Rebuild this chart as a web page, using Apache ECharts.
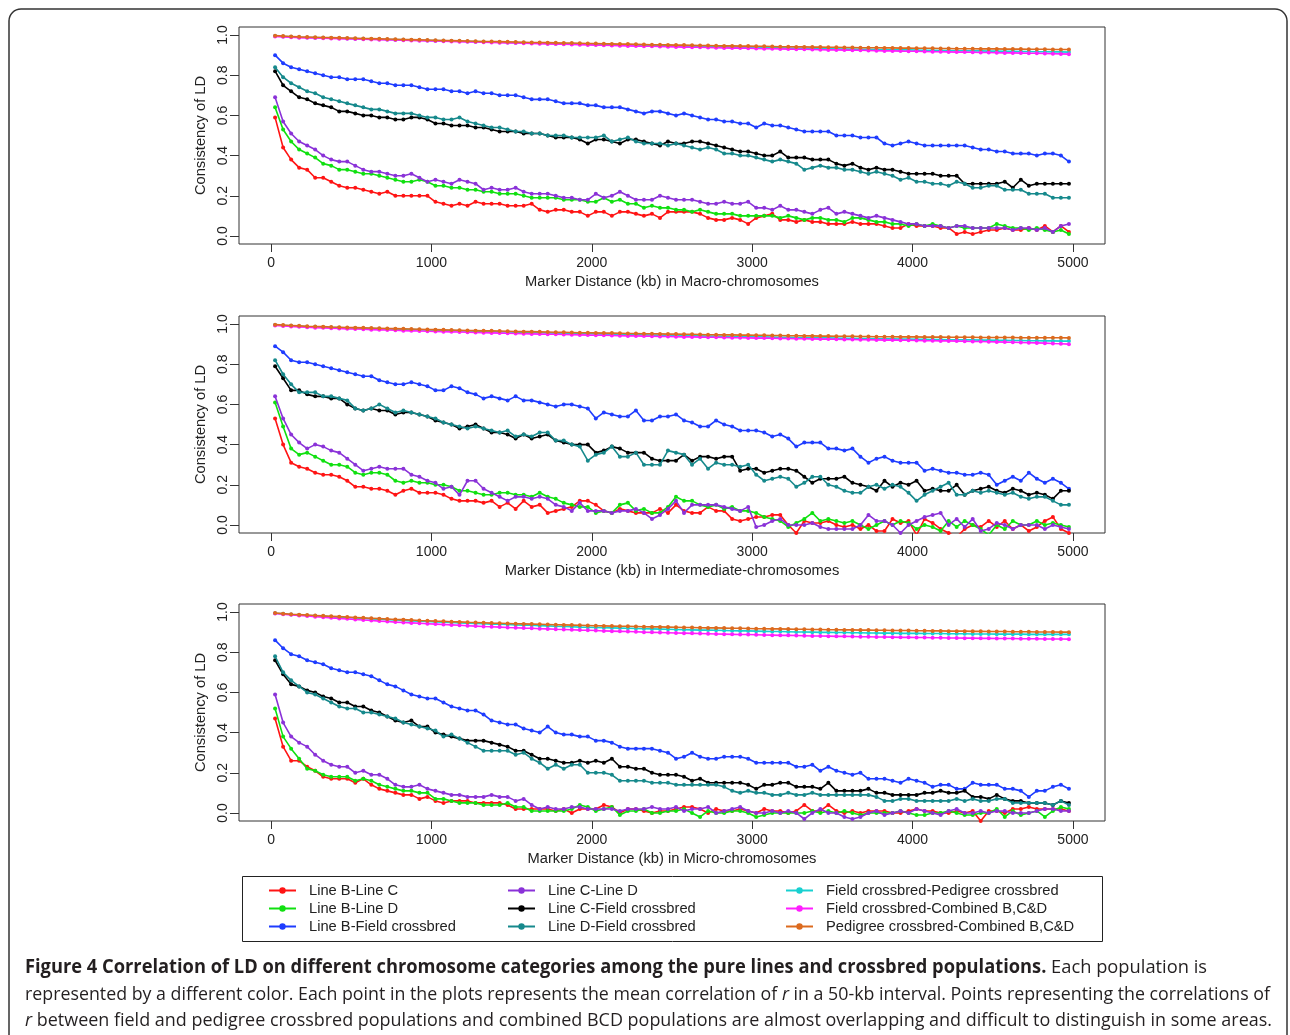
<!DOCTYPE html>
<html><head><meta charset="utf-8">
<script src="https://cdn.jsdelivr.net/npm/echarts@6/dist/echarts.min.js"></script>
<style>html,body{margin:0;padding:0;background:#fff}#c{width:1290px;height:1035px}</style>
</head><body><div id="c"></div>
<script>
// ---- bins: mean correlation of r in 50-kb intervals ----
const binWidth = 50;
const nBins = 100;
const distances = Array.from({length: nBins}, (_, i) => binWidth / 2 + binWidth * i);

const seriesNames = ['Line B-Line C','Line B-Line D','Line B-Field crossbred','Line C-Line D','Line C-Field crossbred','Line D-Field crossbred','Field crossbred-Pedigree crossbred','Field crossbred-Combined B,C&D','Pedigree crossbred-Combined B,C&D'];
const panelTitles = ['Marker Distance (kb) in Macro-chromosomes','Marker Distance (kb) in Intermediate-chromosomes','Marker Distance (kb) in Micro-chromosomes'];
const xTickLabels = [0,1000,2000,3000,4000,5000];
const yTickLabels = [0.0,0.2,0.4,0.6,0.8,1.0];

// ---------- Macro-chromosomes ----------
const macroBC = [0.59,0.44,0.38,0.34,0.33,0.29,0.29,0.27,0.25,0.24, 0.24,0.23,0.22,0.21,0.22,0.20,0.20,0.20,0.20,0.20, 0.17,0.16,0.15,0.16,0.15,0.17,0.16,0.16,0.16,0.15, 0.15,0.15,0.16,0.13,0.12,0.13,0.13,0.12,0.12,0.10, 0.12,0.12,0.10,0.12,0.12,0.11,0.10,0.11,0.09,0.12, 0.12,0.12,0.12,0.11,0.09,0.08,0.08,0.09,0.08,0.06, 0.09,0.10,0.11,0.08,0.08,0.07,0.08,0.07,0.07,0.06, 0.06,0.06,0.07,0.06,0.06,0.06,0.05,0.04,0.04,0.06, 0.05,0.05,0.05,0.04,0.04,0.01,0.02,0.01,0.02,0.03, 0.03,0.04,0.03,0.03,0.04,0.03,0.05,0.02,0.05,0.02];
const macroBD = [0.64,0.53,0.47,0.43,0.41,0.39,0.36,0.35,0.33,0.33, 0.32,0.31,0.31,0.30,0.29,0.28,0.27,0.27,0.28,0.27, 0.25,0.25,0.24,0.24,0.23,0.23,0.22,0.22,0.21,0.21, 0.21,0.20,0.19,0.19,0.19,0.19,0.18,0.18,0.18,0.17, 0.17,0.19,0.17,0.18,0.16,0.16,0.14,0.15,0.14,0.14, 0.13,0.13,0.12,0.13,0.12,0.11,0.11,0.11,0.10,0.10, 0.10,0.10,0.10,0.09,0.10,0.09,0.08,0.09,0.09,0.08, 0.08,0.07,0.09,0.09,0.08,0.07,0.07,0.06,0.06,0.05, 0.06,0.05,0.06,0.05,0.04,0.05,0.04,0.04,0.04,0.04, 0.06,0.05,0.04,0.04,0.03,0.04,0.03,0.02,0.03,0.01];
const macroBF = [0.90,0.86,0.84,0.83,0.82,0.81,0.80,0.79,0.79,0.78, 0.78,0.78,0.77,0.76,0.76,0.75,0.75,0.75,0.74,0.73, 0.73,0.73,0.72,0.72,0.71,0.72,0.71,0.71,0.70,0.70, 0.70,0.69,0.68,0.68,0.68,0.67,0.66,0.66,0.66,0.65, 0.65,0.64,0.64,0.64,0.63,0.62,0.61,0.62,0.62,0.61, 0.60,0.61,0.60,0.59,0.58,0.58,0.57,0.57,0.56,0.56, 0.54,0.56,0.55,0.55,0.54,0.53,0.52,0.52,0.52,0.52, 0.50,0.50,0.50,0.49,0.49,0.49,0.46,0.45,0.46,0.47, 0.46,0.45,0.45,0.45,0.45,0.45,0.45,0.44,0.43,0.43, 0.42,0.42,0.41,0.41,0.41,0.40,0.41,0.41,0.40,0.37];
const macroCD = [0.69,0.57,0.51,0.47,0.45,0.43,0.40,0.38,0.37,0.37, 0.35,0.33,0.32,0.32,0.31,0.30,0.30,0.31,0.29,0.27, 0.28,0.27,0.26,0.28,0.27,0.26,0.23,0.24,0.23,0.23, 0.24,0.22,0.21,0.21,0.21,0.20,0.19,0.19,0.18,0.18, 0.21,0.19,0.20,0.22,0.20,0.18,0.18,0.18,0.20,0.19, 0.18,0.18,0.18,0.17,0.16,0.16,0.17,0.16,0.16,0.17, 0.14,0.14,0.13,0.15,0.13,0.13,0.12,0.11,0.13,0.14, 0.11,0.12,0.11,0.10,0.09,0.10,0.09,0.08,0.07,0.06, 0.06,0.05,0.05,0.05,0.04,0.05,0.05,0.04,0.04,0.04, 0.04,0.04,0.03,0.04,0.04,0.03,0.04,0.02,0.05,0.06];
const macroCF = [0.82,0.75,0.72,0.69,0.68,0.66,0.65,0.64,0.62,0.62, 0.61,0.60,0.60,0.59,0.59,0.58,0.58,0.59,0.59,0.58, 0.56,0.56,0.55,0.55,0.55,0.54,0.54,0.53,0.52,0.52, 0.52,0.51,0.51,0.51,0.50,0.49,0.49,0.49,0.48,0.46, 0.48,0.48,0.47,0.46,0.48,0.48,0.47,0.46,0.45,0.47, 0.46,0.46,0.47,0.47,0.46,0.45,0.44,0.43,0.42,0.42, 0.41,0.40,0.40,0.42,0.39,0.39,0.39,0.38,0.38,0.38, 0.36,0.35,0.36,0.34,0.33,0.34,0.33,0.33,0.32,0.31, 0.31,0.31,0.31,0.30,0.30,0.30,0.26,0.26,0.26,0.26, 0.26,0.27,0.24,0.28,0.25,0.26,0.26,0.26,0.26,0.26];
const macroDF = [0.84,0.79,0.76,0.74,0.72,0.71,0.69,0.68,0.67,0.66, 0.65,0.64,0.63,0.63,0.62,0.61,0.61,0.61,0.60,0.59, 0.59,0.58,0.58,0.59,0.57,0.56,0.55,0.54,0.54,0.53, 0.52,0.52,0.51,0.51,0.50,0.50,0.50,0.49,0.49,0.49, 0.49,0.50,0.47,0.48,0.49,0.47,0.46,0.46,0.46,0.45, 0.46,0.45,0.44,0.43,0.44,0.43,0.41,0.41,0.40,0.40, 0.39,0.38,0.37,0.38,0.37,0.36,0.33,0.34,0.35,0.34, 0.34,0.33,0.33,0.32,0.31,0.32,0.31,0.30,0.28,0.29, 0.27,0.27,0.26,0.26,0.25,0.27,0.26,0.24,0.24,0.25, 0.25,0.23,0.23,0.23,0.21,0.21,0.21,0.19,0.19,0.19];
const macroFP = [0.995,0.993,0.991,0.989,0.988,0.987,0.986,0.985,0.984,0.983, 0.982,0.981,0.980,0.979,0.978,0.977,0.976,0.975,0.974,0.973, 0.972,0.971,0.970,0.969,0.968,0.967,0.966,0.965,0.964,0.963, 0.962,0.961,0.960,0.959,0.958,0.957,0.957,0.956,0.955,0.954, 0.953,0.952,0.951,0.951,0.950,0.949,0.948,0.947,0.947,0.946, 0.945,0.944,0.944,0.943,0.942,0.941,0.941,0.940,0.939,0.938, 0.938,0.937,0.936,0.936,0.935,0.934,0.934,0.933,0.932,0.932, 0.931,0.930,0.930,0.929,0.929,0.928,0.927,0.927,0.926,0.926, 0.925,0.924,0.924,0.923,0.923,0.922,0.922,0.921,0.921,0.920, 0.920,0.919,0.919,0.918,0.918,0.917,0.917,0.916,0.916,0.915];
const macroFB = [0.993,0.991,0.989,0.987,0.986,0.985,0.984,0.983,0.982,0.981, 0.980,0.979,0.978,0.977,0.976,0.975,0.974,0.973,0.972,0.971, 0.970,0.969,0.968,0.967,0.966,0.965,0.964,0.963,0.962,0.961, 0.960,0.959,0.958,0.957,0.956,0.955,0.954,0.953,0.952,0.951, 0.950,0.949,0.948,0.947,0.946,0.945,0.944,0.944,0.943,0.942, 0.941,0.940,0.939,0.939,0.938,0.937,0.936,0.935,0.935,0.934, 0.933,0.932,0.932,0.931,0.930,0.929,0.929,0.928,0.927,0.926, 0.926,0.925,0.924,0.924,0.923,0.922,0.921,0.921,0.920,0.919, 0.919,0.918,0.917,0.917,0.916,0.915,0.915,0.914,0.913,0.913, 0.912,0.911,0.911,0.910,0.909,0.909,0.908,0.907,0.906,0.905];
const macroPB = [0.997,0.995,0.993,0.991,0.990,0.989,0.988,0.987,0.986,0.985, 0.984,0.983,0.982,0.981,0.980,0.979,0.978,0.977,0.976,0.975, 0.974,0.973,0.972,0.971,0.970,0.969,0.968,0.968,0.967,0.966, 0.965,0.964,0.963,0.963,0.962,0.961,0.960,0.960,0.959,0.958, 0.958,0.957,0.956,0.955,0.955,0.954,0.953,0.952,0.952,0.951, 0.950,0.950,0.949,0.948,0.948,0.947,0.946,0.946,0.945,0.945, 0.944,0.944,0.943,0.942,0.942,0.941,0.941,0.940,0.940,0.939, 0.939,0.938,0.938,0.937,0.937,0.937,0.936,0.936,0.935,0.935, 0.934,0.934,0.934,0.933,0.933,0.932,0.932,0.932,0.931,0.931, 0.931,0.930,0.930,0.930,0.929,0.929,0.929,0.928,0.928,0.928];

// ---------- Intermediate-chromosomes ----------
const interBC = [0.53,0.40,0.31,0.29,0.28,0.26,0.25,0.25,0.24,0.22, 0.19,0.19,0.18,0.18,0.17,0.15,0.17,0.18,0.16,0.16, 0.16,0.15,0.13,0.12,0.12,0.12,0.11,0.12,0.09,0.11, 0.08,0.12,0.09,0.10,0.06,0.07,0.08,0.09,0.12,0.12, 0.10,0.07,0.06,0.08,0.07,0.06,0.06,0.06,0.08,0.06, 0.10,0.07,0.06,0.06,0.09,0.07,0.07,0.03,0.02,0.03, 0.04,0.04,0.05,0.05,0.00,-0.04,0.02,0.01,0.01,0.02, 0.00,-0.01,0.00,-0.02,0.00,-0.03,-0.03,0.03,0.01,0.02, -0.05,0.03,0.01,-0.02,-0.04,-0.06,-0.02,0.00,-0.01,0.02, -0.01,0.02,-0.02,0.00,-0.03,-0.01,0.02,0.04,-0.02,-0.04];
const interBD = [0.61,0.49,0.38,0.35,0.36,0.34,0.32,0.30,0.30,0.29, 0.26,0.25,0.26,0.26,0.25,0.22,0.21,0.22,0.21,0.21, 0.20,0.20,0.19,0.17,0.17,0.16,0.15,0.15,0.16,0.16, 0.15,0.15,0.14,0.16,0.14,0.13,0.11,0.10,0.09,0.09, 0.06,0.07,0.06,0.10,0.11,0.07,0.08,0.06,0.06,0.09, 0.14,0.12,0.12,0.10,0.09,0.10,0.08,0.09,0.07,0.07, 0.06,0.04,0.03,0.02,-0.01,0.01,0.03,0.06,0.02,0.03, 0.02,0.01,0.02,0.00,-0.02,0.00,0.02,0.00,0.02,0.01, -0.02,0.00,-0.01,-0.03,0.02,-0.01,0.02,0.00,-0.02,-0.05, 0.00,-0.02,0.02,0.00,0.00,0.02,0.00,0.01,0.00,-0.01];
const interBF = [0.89,0.86,0.82,0.81,0.81,0.80,0.79,0.78,0.77,0.76, 0.75,0.74,0.74,0.72,0.71,0.70,0.70,0.71,0.70,0.69, 0.67,0.67,0.69,0.68,0.66,0.65,0.63,0.64,0.63,0.62, 0.64,0.62,0.62,0.61,0.60,0.59,0.60,0.60,0.59,0.58, 0.53,0.56,0.55,0.54,0.54,0.57,0.52,0.52,0.54,0.54, 0.55,0.52,0.51,0.49,0.49,0.52,0.50,0.49,0.47,0.47, 0.47,0.46,0.44,0.45,0.43,0.39,0.41,0.41,0.41,0.38, 0.38,0.37,0.38,0.34,0.31,0.33,0.34,0.32,0.31,0.31, 0.31,0.27,0.28,0.27,0.26,0.26,0.25,0.25,0.26,0.25, 0.20,0.22,0.24,0.22,0.26,0.23,0.21,0.23,0.21,0.18];
const interCD = [0.64,0.53,0.45,0.41,0.38,0.40,0.39,0.37,0.36,0.33, 0.30,0.27,0.28,0.29,0.28,0.28,0.28,0.25,0.24,0.22, 0.21,0.18,0.19,0.15,0.22,0.22,0.18,0.16,0.14,0.12, 0.14,0.14,0.13,0.14,0.13,0.10,0.09,0.07,0.11,0.07, 0.07,0.07,0.06,0.07,0.07,0.08,0.06,0.03,0.05,0.08, 0.12,0.06,0.10,0.10,0.10,0.10,0.09,0.08,0.07,0.09, -0.01,0.00,0.02,0.03,0.00,0.00,0.00,0.01,-0.01,-0.02, -0.02,-0.02,-0.02,0.00,0.05,0.02,0.02,0.00,-0.04,0.00, 0.02,0.04,0.05,0.06,0.00,0.03,-0.01,0.03,-0.03,-0.02, 0.01,0.00,-0.02,0.00,0.00,0.00,-0.02,0.00,-0.01,-0.02];
const interCF = [0.79,0.73,0.67,0.67,0.65,0.64,0.64,0.63,0.63,0.60, 0.58,0.57,0.58,0.57,0.57,0.55,0.56,0.56,0.55,0.54, 0.52,0.51,0.50,0.48,0.49,0.50,0.48,0.46,0.46,0.45, 0.43,0.45,0.43,0.44,0.45,0.42,0.41,0.40,0.40,0.40, 0.36,0.37,0.39,0.38,0.36,0.36,0.36,0.33,0.32,0.32, 0.32,0.35,0.32,0.34,0.34,0.33,0.34,0.34,0.27,0.28, 0.28,0.26,0.27,0.28,0.28,0.27,0.24,0.21,0.23,0.23, 0.23,0.24,0.21,0.20,0.19,0.17,0.22,0.19,0.21,0.20, 0.22,0.17,0.18,0.17,0.17,0.20,0.15,0.17,0.18,0.19, 0.17,0.16,0.18,0.17,0.15,0.16,0.15,0.13,0.17,0.17];
const interDF = [0.82,0.75,0.70,0.66,0.66,0.66,0.64,0.64,0.63,0.62, 0.58,0.57,0.58,0.60,0.58,0.56,0.57,0.56,0.55,0.54, 0.53,0.51,0.50,0.49,0.48,0.49,0.48,0.47,0.46,0.47, 0.44,0.45,0.44,0.46,0.46,0.42,0.42,0.40,0.39,0.32, 0.35,0.36,0.39,0.34,0.34,0.36,0.30,0.30,0.30,0.37, 0.36,0.35,0.30,0.33,0.28,0.31,0.30,0.30,0.29,0.30, 0.25,0.22,0.23,0.24,0.23,0.19,0.21,0.24,0.24,0.20, 0.19,0.17,0.16,0.16,0.19,0.20,0.18,0.20,0.19,0.16, 0.12,0.15,0.17,0.19,0.21,0.15,0.15,0.17,0.16,0.17, 0.16,0.15,0.16,0.14,0.13,0.14,0.14,0.12,0.10,0.10];
const interFP = [0.995,0.993,0.991,0.989,0.987,0.986,0.984,0.983,0.982,0.980, 0.979,0.978,0.977,0.976,0.975,0.974,0.973,0.972,0.971,0.970, 0.969,0.968,0.967,0.966,0.965,0.964,0.963,0.962,0.961,0.960, 0.959,0.958,0.957,0.957,0.956,0.955,0.954,0.953,0.952,0.952, 0.951,0.950,0.949,0.948,0.948,0.947,0.946,0.945,0.945,0.944, 0.943,0.943,0.942,0.941,0.940,0.940,0.939,0.938,0.938,0.937, 0.936,0.936,0.935,0.934,0.934,0.933,0.932,0.932,0.931,0.931, 0.930,0.929,0.929,0.928,0.928,0.927,0.926,0.926,0.925,0.925, 0.924,0.924,0.923,0.923,0.922,0.922,0.921,0.921,0.920,0.920, 0.919,0.919,0.918,0.918,0.917,0.917,0.916,0.916,0.915,0.915];
const interFB = [0.993,0.990,0.988,0.986,0.984,0.982,0.981,0.979,0.978,0.976, 0.975,0.974,0.972,0.971,0.970,0.969,0.967,0.966,0.965,0.964, 0.963,0.962,0.961,0.960,0.959,0.958,0.957,0.956,0.955,0.954, 0.953,0.952,0.951,0.950,0.949,0.949,0.948,0.947,0.946,0.945, 0.944,0.944,0.943,0.942,0.941,0.941,0.940,0.939,0.938,0.938, 0.937,0.936,0.936,0.935,0.934,0.934,0.933,0.932,0.932,0.931, 0.930,0.930,0.929,0.928,0.928,0.927,0.927,0.926,0.925,0.925, 0.924,0.923,0.923,0.922,0.922,0.921,0.920,0.920,0.919,0.919, 0.918,0.917,0.917,0.916,0.916,0.915,0.914,0.913,0.913,0.912, 0.911,0.910,0.909,0.908,0.907,0.906,0.905,0.903,0.902,0.900];
const interPB = [0.997,0.995,0.993,0.991,0.989,0.988,0.987,0.985,0.984,0.983, 0.982,0.981,0.980,0.979,0.978,0.977,0.976,0.975,0.974,0.973, 0.972,0.971,0.970,0.969,0.968,0.967,0.966,0.966,0.965,0.964, 0.963,0.962,0.962,0.961,0.960,0.959,0.959,0.958,0.957,0.957, 0.956,0.955,0.955,0.954,0.953,0.953,0.952,0.952,0.951,0.950, 0.950,0.949,0.949,0.948,0.947,0.947,0.946,0.946,0.945,0.945, 0.944,0.944,0.943,0.943,0.942,0.942,0.941,0.941,0.940,0.940, 0.939,0.939,0.939,0.938,0.938,0.937,0.937,0.937,0.936,0.936, 0.936,0.935,0.935,0.935,0.934,0.934,0.934,0.934,0.933,0.933, 0.933,0.933,0.933,0.932,0.932,0.932,0.932,0.932,0.932,0.931];

// ---------- Micro-chromosomes ----------
const microBC = [0.47,0.33,0.26,0.26,0.23,0.21,0.18,0.17,0.17,0.17, 0.15,0.17,0.14,0.12,0.11,0.10,0.09,0.09,0.07,0.08, 0.06,0.05,0.06,0.06,0.06,0.05,0.05,0.05,0.05,0.04, 0.02,0.02,0.02,0.02,0.02,0.01,0.02,0.00,0.02,0.02, 0.02,0.04,0.03,0.00,0.02,0.02,0.01,0.00,0.01,0.01, 0.02,0.03,0.03,0.02,0.00,0.02,0.01,0.01,0.02,0.01, 0.00,0.02,0.01,0.01,0.00,0.01,0.04,0.01,0.01,0.04, 0.01,0.00,0.01,0.00,0.01,0.01,0.01,0.00,0.00,0.01, 0.02,0.01,0.01,0.00,0.00,0.01,0.00,0.01,-0.04,0.01, 0.01,0.00,0.02,0.02,0.03,0.02,0.02,0.02,0.02,0.01];
const microBD = [0.52,0.38,0.32,0.27,0.22,0.21,0.19,0.18,0.18,0.18, 0.16,0.17,0.16,0.14,0.13,0.12,0.11,0.11,0.10,0.10, 0.07,0.07,0.06,0.05,0.05,0.05,0.04,0.04,0.04,0.05, 0.03,0.03,0.01,0.01,0.01,0.01,0.01,0.02,0.04,0.03, 0.01,0.02,0.03,-0.01,0.01,0.01,0.02,0.00,0.00,0.01, 0.01,0.02,0.00,-0.02,0.01,0.00,0.00,0.01,0.01,0.00, -0.02,-0.01,0.00,0.00,0.00,0.00,0.00,0.01,0.00,0.01, 0.00,0.01,0.00,-0.01,0.00,0.00,0.00,0.00,0.01,0.00, -0.01,-0.01,0.00,0.00,0.01,0.00,-0.01,-0.01,0.00,0.00, 0.02,-0.02,0.01,-0.01,0.00,0.01,-0.02,0.01,0.03,0.02];
const microBF = [0.86,0.82,0.79,0.78,0.76,0.75,0.74,0.72,0.71,0.70, 0.70,0.69,0.68,0.66,0.64,0.63,0.61,0.59,0.58,0.57, 0.57,0.55,0.53,0.52,0.51,0.51,0.49,0.46,0.45,0.44, 0.44,0.42,0.41,0.40,0.43,0.40,0.39,0.39,0.38,0.38, 0.36,0.36,0.35,0.33,0.32,0.32,0.32,0.32,0.31,0.30, 0.27,0.28,0.30,0.28,0.27,0.27,0.28,0.28,0.28,0.27, 0.25,0.25,0.25,0.25,0.25,0.23,0.23,0.24,0.21,0.23, 0.21,0.20,0.19,0.20,0.17,0.17,0.17,0.16,0.15,0.17, 0.16,0.15,0.13,0.14,0.14,0.12,0.12,0.15,0.14,0.14, 0.14,0.12,0.12,0.11,0.08,0.11,0.11,0.13,0.14,0.12];
const microCD = [0.59,0.45,0.38,0.35,0.33,0.29,0.26,0.24,0.23,0.23, 0.20,0.21,0.19,0.19,0.17,0.14,0.13,0.13,0.14,0.12, 0.11,0.10,0.09,0.09,0.08,0.08,0.08,0.09,0.08,0.08, 0.06,0.07,0.04,0.02,0.03,0.02,0.02,0.03,0.03,0.02, 0.02,0.02,0.02,0.01,0.02,0.02,0.02,0.03,0.02,0.02, 0.03,0.01,0.02,0.02,0.03,0.00,0.01,0.02,0.03,0.01, 0.00,0.00,0.01,0.00,0.01,0.00,-0.03,0.00,0.02,0.00, 0.00,-0.02,-0.03,-0.02,0.00,0.01,-0.01,0.00,0.01,0.00, 0.02,0.01,0.00,-0.01,0.01,0.02,0.00,0.00,0.01,0.00, 0.01,0.01,0.00,0.00,0.00,0.01,0.02,0.02,0.01,0.01];
const microCF = [0.76,0.69,0.64,0.63,0.61,0.60,0.58,0.57,0.55,0.55, 0.53,0.53,0.51,0.50,0.48,0.46,0.45,0.46,0.43,0.43, 0.40,0.39,0.38,0.37,0.36,0.36,0.36,0.35,0.34,0.33, 0.31,0.31,0.29,0.27,0.27,0.26,0.25,0.25,0.26,0.25, 0.26,0.25,0.27,0.23,0.23,0.22,0.22,0.20,0.19,0.19, 0.19,0.18,0.16,0.17,0.15,0.15,0.15,0.15,0.15,0.14, 0.12,0.14,0.14,0.15,0.15,0.13,0.13,0.13,0.12,0.15, 0.11,0.11,0.11,0.11,0.12,0.10,0.10,0.09,0.09,0.09, 0.09,0.10,0.10,0.11,0.10,0.10,0.11,0.08,0.08,0.07, 0.09,0.07,0.06,0.06,0.05,0.05,0.05,0.04,0.06,0.05];
const microDF = [0.78,0.70,0.66,0.63,0.60,0.59,0.57,0.55,0.53,0.52, 0.52,0.50,0.50,0.49,0.48,0.47,0.45,0.44,0.43,0.42, 0.41,0.38,0.39,0.37,0.35,0.33,0.31,0.31,0.31,0.31, 0.29,0.30,0.27,0.25,0.22,0.24,0.22,0.24,0.24,0.20, 0.20,0.20,0.19,0.16,0.16,0.16,0.16,0.15,0.15,0.15, 0.14,0.14,0.14,0.14,0.14,0.14,0.13,0.11,0.10,0.11, 0.10,0.10,0.09,0.09,0.10,0.09,0.09,0.10,0.09,0.09, 0.09,0.09,0.09,0.09,0.09,0.08,0.06,0.06,0.07,0.07, 0.06,0.06,0.06,0.06,0.06,0.07,0.06,0.07,0.06,0.06, 0.07,0.07,0.05,0.05,0.05,0.05,0.05,0.04,0.06,0.04];
const microFP = [0.994,0.991,0.988,0.985,0.983,0.981,0.979,0.976,0.974,0.972, 0.970,0.968,0.966,0.964,0.962,0.960,0.958,0.956,0.954,0.953, 0.951,0.949,0.948,0.946,0.945,0.943,0.942,0.940,0.939,0.938, 0.936,0.935,0.934,0.932,0.931,0.929,0.928,0.927,0.925,0.924, 0.923,0.922,0.921,0.920,0.919,0.918,0.917,0.916,0.915,0.914, 0.913,0.912,0.911,0.910,0.910,0.909,0.908,0.907,0.906,0.906, 0.905,0.904,0.903,0.903,0.902,0.901,0.901,0.900,0.899,0.899, 0.898,0.898,0.897,0.897,0.896,0.896,0.895,0.895,0.894,0.894, 0.894,0.893,0.893,0.893,0.892,0.892,0.892,0.891,0.891,0.891, 0.890,0.890,0.890,0.890,0.889,0.889,0.889,0.889,0.889,0.889];
const microFB = [0.993,0.989,0.986,0.983,0.980,0.977,0.974,0.971,0.968,0.966, 0.963,0.960,0.958,0.955,0.953,0.950,0.948,0.946,0.944,0.942, 0.940,0.938,0.936,0.934,0.932,0.930,0.928,0.927,0.925,0.923, 0.922,0.920,0.919,0.917,0.916,0.914,0.913,0.912,0.910,0.909, 0.908,0.906,0.905,0.904,0.903,0.902,0.900,0.899,0.898,0.897, 0.896,0.895,0.894,0.893,0.892,0.891,0.890,0.889,0.888,0.888, 0.887,0.886,0.885,0.884,0.884,0.883,0.882,0.881,0.881,0.880, 0.879,0.879,0.878,0.877,0.877,0.876,0.876,0.875,0.874,0.874, 0.873,0.873,0.872,0.872,0.871,0.871,0.870,0.870,0.869,0.869, 0.868,0.868,0.868,0.867,0.867,0.867,0.866,0.866,0.866,0.865];
const microPB = [0.995,0.992,0.989,0.987,0.985,0.983,0.981,0.979,0.977,0.975, 0.973,0.971,0.969,0.967,0.965,0.963,0.962,0.960,0.958,0.957, 0.955,0.954,0.952,0.951,0.949,0.948,0.947,0.945,0.944,0.943, 0.942,0.941,0.940,0.939,0.938,0.937,0.936,0.935,0.934,0.933, 0.932,0.931,0.930,0.929,0.929,0.928,0.927,0.926,0.926,0.925, 0.924,0.923,0.923,0.922,0.921,0.921,0.920,0.919,0.919,0.918, 0.917,0.917,0.916,0.916,0.915,0.914,0.914,0.913,0.913,0.912, 0.912,0.911,0.911,0.910,0.910,0.909,0.909,0.908,0.908,0.908, 0.907,0.907,0.906,0.906,0.905,0.905,0.905,0.904,0.904,0.903, 0.903,0.903,0.902,0.902,0.902,0.901,0.901,0.901,0.900,0.900];

const panels = [
  [macroBC, macroBD, macroBF, macroCD, macroCF, macroDF, macroFP, macroFB, macroPB],
  [interBC, interBD, interBF, interCD, interCF, interDF, interFP, interFB, interPB],
  [microBC, microBD, microBF, microCD, microCF, microDF, microFP, microFB, microPB]
];
const colors = ['#FF1414','#10E010','#1E3CFF','#8A32D8','#000000','#16898C','#18D0D0','#FF1EFF','#DC6A1E'];

// ---------- layout ----------
const gridLeft = 239, gridWidth = 866, gridHeight = 217;
const gridTops = [27, 316, 604];
const fontAx = "'Liberation Sans', Arial, Helvetica, sans-serif";
const ink = '#222';

const grids = [], xAxes = [], yAxes = [], series = [];
gridTops.forEach((top, p) => {
  grids.push({left: gridLeft, top: top, width: gridWidth, height: gridHeight, show: true, borderColor: '#333', borderWidth: 1, backgroundColor: 'transparent'});
  xAxes.push({
    type: 'value', gridIndex: p, min: -200, max: 5200, position: 'bottom',
    name: panelTitles[p], nameLocation: 'middle', nameGap: 30,
    nameTextStyle: {fontFamily: fontAx, fontSize: 14.7, color: ink},
    axisLine: {show: false, onZero: false},
    axisTick: {show: true, length: 8, customValues: xTickLabels, lineStyle: {color: '#333', width: 1}},
    axisLabel: {customValues: xTickLabels, margin: 12, fontFamily: fontAx, fontSize: 14, color: ink, formatter: v => String(Math.round(v))},
    splitLine: {show: false}
  });
  yAxes.push({
    type: 'value', gridIndex: p, min: -0.04, max: 1.04, position: 'left',
    name: 'Consistency of LD', nameLocation: 'middle', nameGap: 24, nameRotate: 90,
    nameTextStyle: {fontFamily: fontAx, fontSize: 14.7, color: ink},
    axisLine: {show: false, onZero: false},
    axisTick: {show: true, length: 9, customValues: yTickLabels, lineStyle: {color: '#333', width: 1}},
    axisLabel: {customValues: yTickLabels, rotate: 90, margin: 9, fontFamily: fontAx, fontSize: 14, color: ink, formatter: v => Number(v).toFixed(1)},
    splitLine: {show: false}
  });
  panels[p].forEach((vals, k) => {
    series.push({
      type: 'line', name: seriesNames[k], xAxisIndex: p, yAxisIndex: p,
      data: distances.map((d, i) => [d, vals[i]]),
      symbol: 'circle', symbolSize: 4, showSymbol: true,
      lineStyle: {width: 1.6, color: colors[k]}, itemStyle: {color: colors[k]},
      clip: true, animation: false, z: 2 + k
    });
  });
});

// legend in three columns
const legendCols = [268, 507, 785];
const legends = legendCols.map((left, c) => ({
  orient: 'vertical', left: left, top: 883, padding: 0, itemGap: 3,
  itemWidth: 27, itemHeight: 8,
  data: seriesNames.slice(c * 3, c * 3 + 3),
  textStyle: {fontFamily: fontAx, fontSize: 14.7, color: ink, padding: [0, 0, 0, 8]},
  selectedMode: false
}));

// caption (each line scaled horizontally to the figure's condensed caption width)
const capFont = "'Open Sans', 'Noto Sans', sans-serif";
const capSize = 19;
const cap1b = 'Figure 4 Correlation of LD on different chromosome categories among the pure lines and crossbred populations.';
const cap1n = ' Each population is';
const cap2a = 'represented by a different color. Each point in the plots represents the mean correlation of ';
const cap2b = ' in a 50-kb interval. Points representing the correlations of';
const cap3b = ' between field and pedigree crossbred populations and combined BCD populations are almost overlapping and difficult to distinguish in some areas.';
const mctx = document.createElement('canvas').getContext('2d');
function tw(t, w, st) { mctx.font = (st || 'normal') + ' normal ' + (w || 'normal') + ' ' + capSize + 'px ' + capFont; return mctx.measureText(t).width; }
const capX = 25;
const line1W = tw(cap1b, 'bold') + tw(cap1n);
const line2W = tw(cap2a) + tw('r', 'normal', 'italic') + tw(cap2b);
const line3W = tw('r', 'normal', 'italic') + tw(cap3b);
const capColor = '#231F20';
const rich = {
  b: {fontFamily: capFont, fontSize: capSize, fontWeight: 'bold', fill: capColor},
  n: {fontFamily: capFont, fontSize: capSize, fontWeight: 'normal', fill: capColor},
  i: {fontFamily: capFont, fontSize: capSize, fontStyle: 'italic', fill: capColor}
};
function capLine(txt, y, scale) {
  return {type: 'text', x: capX, y: y, scaleX: scale, silent: true,
    style: {text: txt, rich: rich, verticalAlign: 'middle', align: 'left', fontFamily: capFont, fontSize: capSize, fill: capColor}};
}

const option = {
  animation: false,
  backgroundColor: '#fff',
  grid: grids, xAxis: xAxes, yAxis: yAxes, series: series,
  legend: legends,
  graphic: [
    {type: 'rect', shape: {x: 9, y: 9, width: 1278, height: 1200, r: 12}, style: {fill: 'none', stroke: '#333', lineWidth: 1.5}, silent: true},
    {type: 'rect', shape: {x: 242.5, y: 876.5, width: 860, height: 65}, style: {fill: 'none', stroke: '#222', lineWidth: 1}, silent: true},
    capLine('{b|' + cap1b + '}{n|' + cap1n + '}', 968, (1207 - capX) / line1W),
    capLine('{n|' + cap2a + '}{i|r}{n|' + cap2b + '}', 995, (1270 - capX) / line2W),
    capLine('{i|r}{n|' + cap3b + '}', 1021, (1272 - capX) / line3W)
  ]
};
const chart = echarts.init(document.getElementById('c'), null, {renderer: 'canvas'});
chart.setOption(option);
</script>
</body></html>
